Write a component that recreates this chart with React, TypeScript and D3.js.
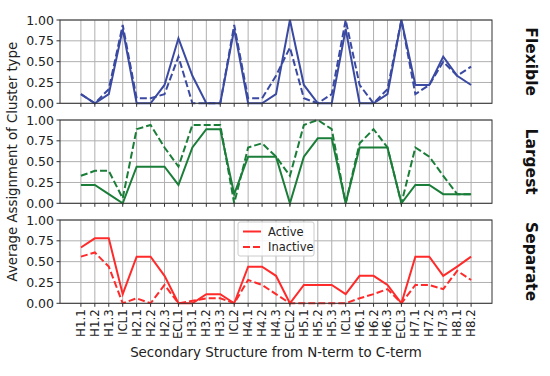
import React from 'react';
import * as d3 from 'd3';

const categories = [
  'H1.1', 'H1.2', 'H1.3', 'ICL1', 'H2.1', 'H2.2', 'H2.3', 'ECL1', 'H3.1', 'H3.2',
  'H3.3', 'ICL2', 'H4.1', 'H4.2', 'H4.3', 'ECL2', 'H5.1', 'H5.2', 'H5.3', 'ICL3',
  'H6.1', 'H6.2', 'H6.3', 'ECL3', 'H7.1', 'H7.2', 'H7.3', 'H8.1', 'H8.2',
];

const flexibleActive = [
  0.11, 0, 0.11, 0.89, 0, 0, 0.22, 0.78, 0.33, 0,
  0, 0.89, 0, 0, 0.11, 1.0, 0.22, 0, 0, 0.89,
  0, 0, 0.11, 1.0, 0.22, 0.22, 0.56, 0.33, 0.22,
];
const flexibleInactive = [
  0.11, 0, 0.17, 0.94, 0.06, 0.06, 0.11, 0.56, 0, 0,
  0, 0.94, 0.06, 0.06, 0.33, 0.67, 0.06, 0, 0.11, 1.0,
  0.22, 0, 0.17, 1.0, 0.11, 0.22, 0.5, 0.33, 0.44,
];
const largestActive = [
  0.22, 0.22, 0.11, 0, 0.44, 0.44, 0.44, 0.22, 0.67, 0.89,
  0.89, 0.11, 0.56, 0.56, 0.56, 0, 0.56, 0.78, 0.78, 0,
  0.67, 0.67, 0.67, 0, 0.22, 0.22, 0.11, 0.11, 0.11,
];
const largestInactive = [
  0.33, 0.39, 0.39, 0.06, 0.89, 0.94, 0.67, 0.44, 0.94, 0.94,
  0.94, 0, 0.67, 0.72, 0.56, 0.33, 0.94, 1.0, 0.89, 0,
  0.72, 0.89, 0.67, 0, 0.67, 0.56, 0.33, 0.11, 0.11,
];
const separateActive = [
  0.67, 0.78, 0.78, 0.11, 0.56, 0.56, 0.33, 0, 0, 0.11,
  0.11, 0, 0.44, 0.44, 0.33, 0, 0.22, 0.22, 0.22, 0.11,
  0.33, 0.33, 0.22, 0, 0.56, 0.56, 0.33, 0.44, 0.56,
];
const separateInactive = [
  0.56, 0.61, 0.44, 0, 0.06, 0, 0.22, 0, 0.03, 0.06,
  0.06, 0, 0.28, 0.22, 0.11, 0, 0, 0, 0, 0,
  0.06, 0.11, 0.17, 0, 0.22, 0.22, 0.17, 0.39, 0.28,
];

const yTicks = [0, 0.25, 0.5, 0.75, 1.0];

const panels = [
  { name: 'Flexible', color: '#3a4aa2', active: flexibleActive, inactive: flexibleInactive },
  { name: 'Largest', color: '#1a7d38', active: largestActive, inactive: largestInactive },
  { name: 'Separate', color: '#ff2a2a', active: separateActive, inactive: separateInactive },
];

const W = 550;
const H = 376;
const left = 60;
const right = 492;
const panelTops = [20, 120, 220];
const panelH = 83.3;
const font = "'DejaVu Sans', sans-serif";

export default function App() {
  const x = d3.scaleLinear().domain([-1.5, 29.5]).range([left, right]);

  return (
    <div style={{ position: 'fixed', left: 0, top: 0 }}>
      <svg width={W} height={H} style={{ display: 'block', background: '#fff' }} fontFamily={font}>
        {panels.map((p, pi) => {
          const top = panelTops[pi];
          const y = d3.scaleLinear().domain([0, 1]).range([top + panelH, top]);
          const line = d3.line<number>()
            .x((_, i) => x(i))
            .y(d => y(d));
          return (
            <g key={p.name}>
              {/* grid */}
              {categories.map((c, i) => (
                <line key={c} x1={x(i)} x2={x(i)} y1={top} y2={top + panelH} stroke="#b0b0b0" strokeWidth={1} />
              ))}
              {yTicks.map(t => (
                <line key={t} x1={left} x2={right} y1={y(t)} y2={y(t)} stroke="#b0b0b0" strokeWidth={1} />
              ))}
              {/* lines */}
              <path d={line(p.inactive) || ''} fill="none" stroke={p.color} strokeWidth={2} strokeDasharray="7,3" />
              <path d={line(p.active) || ''} fill="none" stroke={p.color} strokeWidth={2} />
              {/* frame */}
              <rect x={left} y={top} width={right - left} height={panelH} fill="none" stroke="#333" strokeWidth={1} />
              {/* ticks */}
              {categories.map((c, i) => (
                <line key={'t' + c} x1={x(i)} x2={x(i)} y1={top + panelH} y2={top + panelH + 3.5} stroke="#333" strokeWidth={1} />
              ))}
              {yTicks.map(t => (
                <g key={'y' + t}>
                  <line x1={left - 3.5} x2={left} y1={y(t)} y2={y(t)} stroke="#333" strokeWidth={1} />
                  <text x={left - 6} y={y(t)} textAnchor="end" dominantBaseline="central" fontSize={12.5} fill="#222">
                    {t.toFixed(2)}
                  </text>
                </g>
              ))}
              <text
                transform={`translate(${531},${top + panelH / 2}) rotate(90)`}
                textAnchor="middle"
                dominantBaseline="central"
                fontSize={15.5}
                fontWeight="bold"
                fill="#111"
              >
                {p.name}
              </text>
              {pi === 2 && (
                <g>
                  {categories.map((c, i) => (
                    <text
                      key={'l' + c}
                      transform={`translate(${x(i)},${top + panelH + 6}) rotate(-90)`}
                      textAnchor="end"
                      dominantBaseline="central"
                      fontSize={11.8}
                      fill="#222"
                    >
                      {c}
                    </text>
                  ))}
                  <g transform="translate(238,222)">
                    <rect x={0} y={0} width={76} height={34} rx={2} fill="#fff" fillOpacity={0.85} stroke="#ccc" />
                    <line x1={5} x2={23} y1={9.5} y2={9.5} stroke={p.color} strokeWidth={2} />
                    <text x={30} y={9.5} dominantBaseline="central" fontSize={11.5} fill="#222">Active</text>
                    <line x1={5} x2={23} y1={25} y2={25} stroke={p.color} strokeWidth={2} strokeDasharray="7,3" />
                    <text x={30} y={25} dominantBaseline="central" fontSize={11.5} fill="#222">Inactive</text>
                  </g>
                </g>
              )}
            </g>
          );
        })}
        <text x={(left + right) / 2} y={357} textAnchor="middle" fontSize={13.4} fill="#222">
          Secondary Structure from N-term to C-term
        </text>
        <text
          transform={`translate(12,${(panelTops[0] + panelTops[2] + panelH) / 2}) rotate(-90)`}
          textAnchor="middle"
          dominantBaseline="central"
          fontSize={13.3}
          fill="#222"
        >
          Average Assignment of Cluster type
        </text>
      </svg>
    </div>
  );
}
